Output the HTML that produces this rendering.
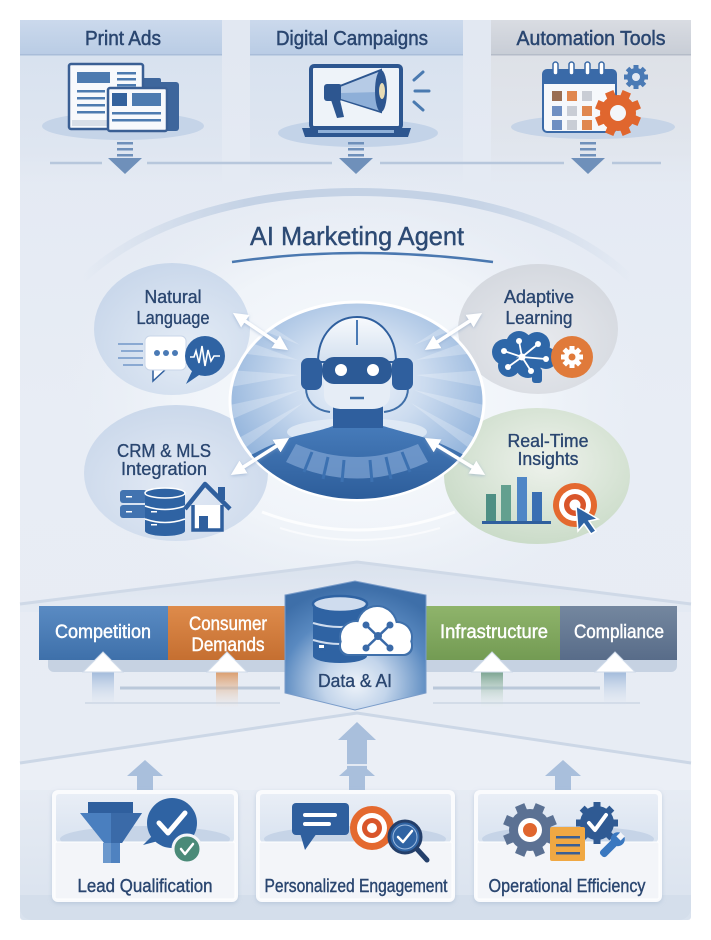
<!DOCTYPE html>
<html><head><meta charset="utf-8">
<style>
html,body{margin:0;padding:0;background:#fff;}
svg{display:block;}
text{font-family:"Liberation Sans",sans-serif;}
</style></head><body>
<svg width="711" height="940" viewBox="0 0 711 940" xmlns="http://www.w3.org/2000/svg">
<defs>
 <linearGradient id="gBg" x1="0" y1="0" x2="0" y2="1">
  <stop offset="0" stop-color="#e2e8f2"/><stop offset=".45" stop-color="#e8edf5"/><stop offset=".85" stop-color="#e7ecf4"/><stop offset="1" stop-color="#d9e2ee"/>
 </linearGradient>
 <linearGradient id="gTab" x1="0" y1="0" x2="0" y2="1"><stop offset="0" stop-color="#cbd9ec"/><stop offset="1" stop-color="#b9cce5"/></linearGradient>
 <linearGradient id="gTabG" x1="0" y1="0" x2="0" y2="1"><stop offset="0" stop-color="#d9dce2"/><stop offset="1" stop-color="#c8cdd6"/></linearGradient>
 <linearGradient id="gCol" x1="0" y1="0" x2="0" y2="1"><stop offset="0" stop-color="#d8e2ef"/><stop offset=".7" stop-color="#dfe6f1"/><stop offset="1" stop-color="#e3e9f3" stop-opacity="0"/></linearGradient>
 <linearGradient id="gColG" x1="0" y1="0" x2="0" y2="1"><stop offset="0" stop-color="#dee1e7"/><stop offset=".7" stop-color="#e1e6ee"/><stop offset="1" stop-color="#e3e9f3" stop-opacity="0"/></linearGradient>
 <linearGradient id="gArc" x1="0" y1="0" x2="1" y2="0"><stop offset="0" stop-color="#c4d2e5" stop-opacity="0"/><stop offset=".3" stop-color="#c4d2e5"/><stop offset=".7" stop-color="#c4d2e5"/><stop offset="1" stop-color="#c4d2e5" stop-opacity="0"/></linearGradient>
 <radialGradient id="gGlow"><stop offset="0" stop-color="#f8fafd"/><stop offset=".6" stop-color="#f0f4f9"/><stop offset="1" stop-color="#e8edf5" stop-opacity="0"/></radialGradient>
 <radialGradient id="gNL" cx=".6" cy=".65" r=".65"><stop offset="0" stop-color="#e4ecf6"/><stop offset="1" stop-color="#cad8eb"/></radialGradient>
 <radialGradient id="gAL" cx=".5" cy=".6" r=".65"><stop offset="0" stop-color="#e8eaee"/><stop offset="1" stop-color="#d3d7de"/></radialGradient>
 <radialGradient id="gCRM" cx=".5" cy=".6" r=".65"><stop offset="0" stop-color="#e3eaf5"/><stop offset="1" stop-color="#c9d7ea"/></radialGradient>
 <radialGradient id="gRT" cx=".55" cy=".4" r=".65"><stop offset="0" stop-color="#eef2ec"/><stop offset="1" stop-color="#c8dac6"/></radialGradient>
 <radialGradient id="gCen" cx=".5" cy=".4" r=".6"><stop offset="0" stop-color="#f0f5fb"/><stop offset=".45" stop-color="#cbdbef"/><stop offset="1" stop-color="#8aaed9"/></radialGradient>
 <linearGradient id="gBody" x1="0" y1="0" x2="0" y2="1"><stop offset="0" stop-color="#467bba"/><stop offset="1" stop-color="#2b5b98"/></linearGradient>
 <linearGradient id="gHead" x1="0" y1="0" x2="0" y2="1"><stop offset="0" stop-color="#f8fafd"/><stop offset="1" stop-color="#d3e0ef"/></linearGradient>
 <clipPath id="cCen"><ellipse cx="357" cy="401" rx="126" ry="98"/></clipPath>
 <radialGradient id="gHex" cx=".5" cy=".8" r=".75"><stop offset="0" stop-color="#eef3f9"/><stop offset=".3" stop-color="#c3d5eb"/><stop offset=".7" stop-color="#5989c0"/><stop offset="1" stop-color="#3e6fa9"/></radialGradient>
 <linearGradient id="gS1" x1="0" y1="0" x2="0" y2="1"><stop offset="0" stop-color="#5a8bc3"/><stop offset="1" stop-color="#3e70aa"/></linearGradient>
 <linearGradient id="gS2" x1="0" y1="0" x2="0" y2="1"><stop offset="0" stop-color="#de8b4b"/><stop offset="1" stop-color="#c56f31"/></linearGradient>
 <linearGradient id="gS3" x1="0" y1="0" x2="0" y2="1"><stop offset="0" stop-color="#8fb46b"/><stop offset="1" stop-color="#739b53"/></linearGradient>
 <linearGradient id="gS4" x1="0" y1="0" x2="0" y2="1"><stop offset="0" stop-color="#74879f"/><stop offset="1" stop-color="#586c89"/></linearGradient>
 <linearGradient id="gStB" x1="0" y1="0" x2="0" y2="1"><stop offset="0" stop-color="#9ab5d8"/><stop offset="1" stop-color="#dfe7f2" stop-opacity="0"/></linearGradient>
 <linearGradient id="gStO" x1="0" y1="0" x2="0" y2="1"><stop offset="0" stop-color="#d9955f"/><stop offset="1" stop-color="#efd9c7" stop-opacity="0"/></linearGradient>
 <linearGradient id="gStG" x1="0" y1="0" x2="0" y2="1"><stop offset="0" stop-color="#6f9c86"/><stop offset="1" stop-color="#d6e5da" stop-opacity="0"/></linearGradient>
 <linearGradient id="gCardTop" x1="0" y1="0" x2="0" y2="1"><stop offset="0" stop-color="#e9eef6"/><stop offset="1" stop-color="#d9e3f0"/></linearGradient>
 <linearGradient id="gRoof" x1="0" y1="0" x2="0" y2="1"><stop offset="0" stop-color="#d5deeb"/><stop offset="1" stop-color="#e4eaf3"/></linearGradient>
 <marker id="ah" viewBox="0 0 12 12" refX="9" refY="6" markerWidth="15" markerHeight="15" markerUnits="userSpaceOnUse" orient="auto-start-reverse">
  <path d="M0,0 L12,6 L0,12 Z" fill="#ffffff"/>
 </marker>
 <filter id="fSh" x="-20%" y="-20%" width="140%" height="140%"><feDropShadow dx="0" dy="1" stdDeviation="1.5" flood-color="#7f9cc4" flood-opacity=".55"/></filter>
 <filter id="fCard" x="-10%" y="-10%" width="120%" height="125%"><feDropShadow dx="0" dy="1.5" stdDeviation="2" flood-color="#9fb2cc" flood-opacity=".5"/></filter>
</defs>

<!-- panel background -->
<rect x="20" y="20" width="671" height="900" rx="3" fill="url(#gBg)"/>

<!-- top columns & tabs -->
<rect x="20" y="55" width="202" height="140" fill="url(#gCol)"/>
<rect x="250" y="55" width="213" height="140" fill="url(#gCol)"/>
<rect x="491" y="55" width="200" height="140" fill="url(#gColG)"/>
<rect x="20" y="20" width="202" height="35" fill="url(#gTab)"/>
<rect x="250" y="20" width="213" height="35" fill="url(#gTab)"/>
<rect x="491" y="20" width="200" height="35" fill="url(#gTabG)"/>
<rect x="20" y="54" width="202" height="1.5" fill="#a9bdd9"/>
<rect x="250" y="54" width="213" height="1.5" fill="#a9bdd9"/>
<rect x="491" y="54" width="200" height="1.5" fill="#b5bcc8"/>
<g fill="#2a4670" stroke="#2a4670" stroke-width="0.5" font-size="20" text-anchor="middle">
 <text x="123" y="45" textLength="76" lengthAdjust="spacingAndGlyphs">Print Ads</text>
 <text x="352" y="45" textLength="152" lengthAdjust="spacingAndGlyphs">Digital Campaigns</text>
 <text x="591" y="45" textLength="149" lengthAdjust="spacingAndGlyphs">Automation Tools</text>
</g>

<!-- Print ads icon -->
<ellipse cx="123" cy="126" rx="81" ry="14" fill="#c5d4e8"/>
<rect x="140" y="82" width="39" height="49" rx="3" fill="#3e669c"/>
<rect x="141" y="78" width="20" height="7" rx="2" fill="#3e669c"/>
<rect x="69" y="64" width="74" height="65" rx="2" fill="#f7f9fc" stroke="#3a5f94" stroke-width="2.5"/>
<rect x="72" y="120" width="36" height="6" fill="#d9dfe8"/>
<rect x="108" y="88" width="59" height="43" rx="2" fill="#f7f9fc" stroke="#3a5f94" stroke-width="2.5"/>
<g fill="#4d7bb0">
 <rect x="77" y="72" width="33" height="11"/>
 <rect x="117" y="72" width="19" height="2.5"/><rect x="117" y="78" width="19" height="2.5"/><rect x="117" y="84" width="19" height="2.5"/>
 <rect x="77" y="90" width="28" height="2.5"/><rect x="77" y="97" width="28" height="2.5"/><rect x="77" y="104" width="28" height="2.5"/><rect x="77" y="111" width="28" height="2.5"/>
 <rect x="132" y="93" width="29" height="13"/>
 <rect x="112" y="112" width="49" height="2.5"/><rect x="112" y="119" width="49" height="2.5"/>
</g>
<rect x="112" y="93" width="15" height="13" fill="#33629d"/>

<!-- Laptop icon -->
<ellipse cx="358" cy="133" rx="80" ry="14" fill="#c3d3e8"/>
<rect x="311" y="66" width="90" height="62" rx="3" fill="#eef3f9" stroke="#2d5690" stroke-width="4"/>
<path d="M302,128 H411 L408,137 H305 Z" fill="#2d5690"/>
<rect x="318" y="130" width="76" height="3" fill="#8fb0d8"/>
<rect x="324" y="84" width="18" height="17" rx="3" fill="#2d5690"/>
<path d="M340,86 L381,70 L381,112 L340,99 Z" fill="#b6cbe6" stroke="#2d5690" stroke-width="2"/>
<path d="M341,93 L380,92 L380,111 L341,99 Z" fill="#8eafd8"/>
<ellipse cx="381" cy="91" rx="6" ry="21" fill="#2d5690"/>
<ellipse cx="382" cy="91" rx="3" ry="8" fill="#e8dcb5"/>
<path d="M331,100 L337,118 L344,117 L340,100 Z" fill="#2d5690"/>
<g stroke="#4a7ab0" stroke-width="3" stroke-linecap="round">
 <line x1="414" y1="80" x2="423" y2="72"/><line x1="415" y1="91" x2="429" y2="91"/><line x1="414" y1="102" x2="423" y2="110"/>
</g>

<!-- Calendar icon -->
<ellipse cx="593" cy="127" rx="82" ry="12" fill="#c6d4e7"/>
<rect x="543" y="70" width="73" height="62" rx="4" fill="#f6f8fb" stroke="#3a6aa8" stroke-width="2"/>
<path d="M543,74 a4,4 0 0 1 4,-4 h65 a4,4 0 0 1 4,4 v10 h-73 z" fill="#3a6aa8"/>
<g fill="#fff" stroke="#3a6aa8" stroke-width="1.5">
 <rect x="553" y="62" width="5" height="13" rx="2.5"/><rect x="569" y="62" width="5" height="13" rx="2.5"/><rect x="585" y="62" width="5" height="13" rx="2.5"/><rect x="599" y="62" width="5" height="13" rx="2.5"/>
</g>
<rect x="552" y="91" width="10" height="10" fill="#9a6e52"/><rect x="567" y="91" width="10" height="10" fill="#e0874f"/><rect x="582" y="91" width="10" height="10" fill="#c9cdd5"/>
<rect x="552" y="106" width="10" height="10" fill="#6f8fc2"/><rect x="567" y="106" width="10" height="10" fill="#c9cdd5"/><rect x="582" y="106" width="10" height="10" fill="#e0874f"/>
<rect x="552" y="120" width="10" height="10" fill="#6f8fc2"/><rect x="567" y="120" width="10" height="10" fill="#c9cdd5"/><rect x="582" y="120" width="10" height="10" fill="#e0874f"/>
<g transform="translate(636,77)" fill="#4a7ab5"><circle r="9"/><rect x="-2.5" y="-12" width="5" height="24"/><rect x="-2.5" y="-12" width="5" height="24" transform="rotate(45)"/><rect x="-2.5" y="-12" width="5" height="24" transform="rotate(90)"/><rect x="-2.5" y="-12" width="5" height="24" transform="rotate(135)"/></g>
<circle cx="636" cy="77" r="4" fill="#e3e9f3"/>
<g transform="translate(618,113) rotate(22.5)" fill="#e0662e"><circle r="18"/><rect x="-4.5" y="-23" width="9" height="46"/><rect x="-4.5" y="-23" width="9" height="46" transform="rotate(45)"/><rect x="-4.5" y="-23" width="9" height="46" transform="rotate(90)"/><rect x="-4.5" y="-23" width="9" height="46" transform="rotate(135)"/></g>
<circle cx="618" cy="113" r="8" fill="#f3f6fa"/>

<!-- down arrows & line -->
<g stroke="#b7c7dc" stroke-width="2.5">
 <line x1="50" y1="163" x2="102" y2="163"/><line x1="147" y1="163" x2="332" y2="163"/><line x1="380" y1="163" x2="564" y2="163"/><line x1="612" y1="163" x2="661" y2="163"/>
</g>
<g fill="#6f90ba">
 <rect x="117" y="142" width="16" height="2.5"/><rect x="117" y="148" width="16" height="2.5"/><rect x="117" y="154" width="16" height="2.5"/><polygon points="108,158 142,158 125,174"/>
 <rect x="348" y="142" width="16" height="2.5"/><rect x="348" y="148" width="16" height="2.5"/><rect x="348" y="154" width="16" height="2.5"/><polygon points="339,158 373,158 356,174"/>
 <rect x="580" y="142" width="16" height="2.5"/><rect x="580" y="148" width="16" height="2.5"/><rect x="580" y="154" width="16" height="2.5"/><polygon points="571,158 605,158 588,174"/>
</g>

<!-- agent area glow and arc -->
<ellipse cx="357" cy="400" rx="300" ry="230" fill="url(#gGlow)"/>
<path d="M82,280 C150,215 260,192 357,192 C455,192 565,215 632,280" fill="none" stroke="url(#gArc)" stroke-width="8"/>
<text x="357" y="245" font-size="26" fill="#2c4a74" stroke="#2c4a74" stroke-width="0.4" text-anchor="middle" textLength="214" lengthAdjust="spacingAndGlyphs">AI Marketing Agent</text>
<path d="M232,262 Q357,244 493,262" fill="none" stroke="#4a78b0" stroke-width="2.5"/>

<!-- Natural Language -->
<ellipse cx="172" cy="329" rx="78" ry="66" fill="url(#gNL)"/>
<g fill="#2a4670" stroke="#2a4670" stroke-width="0.35" font-size="18" text-anchor="middle">
 <text x="173" y="303" textLength="57" lengthAdjust="spacingAndGlyphs">Natural</text>
 <text x="173" y="324" textLength="73" lengthAdjust="spacingAndGlyphs">Language</text>
</g>
<g fill="#8aa9d2"><rect x="118" y="343" width="25" height="2"/><rect x="121" y="350" width="22" height="2"/><rect x="118" y="357" width="25" height="2"/><rect x="123" y="364" width="20" height="2"/></g>
<path d="M153,368 L153,381 L166,369 Z" fill="#fff" stroke="#2f5f9e" stroke-width="1.5"/>
<rect x="145" y="336" width="41" height="34" rx="5" fill="#fff" stroke="#c9d6e8" stroke-width="1"/>
<circle cx="157" cy="353" r="3" fill="#4a7ab5"/><circle cx="166" cy="353" r="3" fill="#4a7ab5"/><circle cx="175" cy="353" r="3" fill="#4a7ab5"/>
<path d="M193,369 L186,384 L202,373 Z" fill="#2f63a3"/>
<circle cx="205" cy="356" r="20" fill="#2f63a3"/>
<polyline points="190,357 194,357 196,351 199,363 202,346 205,366 208,350 211,361 214,356 220,356" fill="none" stroke="#fff" stroke-width="1.6"/>

<!-- Adaptive Learning -->
<ellipse cx="538" cy="329" rx="80" ry="65" fill="url(#gAL)"/>
<g fill="#2a4670" stroke="#2a4670" stroke-width="0.35" font-size="18" text-anchor="middle">
 <text x="539" y="303" textLength="70" lengthAdjust="spacingAndGlyphs">Adaptive</text>
 <text x="539" y="324" textLength="67" lengthAdjust="spacingAndGlyphs">Learning</text>
</g>
<g fill="#2e67a8">
 <circle cx="505" cy="352" r="13"/><circle cx="519" cy="344" r="13"/><circle cx="537" cy="345" r="13"/><circle cx="546" cy="358" r="11"/><circle cx="509" cy="366" r="11"/><circle cx="528" cy="365" r="13"/><rect x="532" y="368" width="10" height="15" rx="3"/>
</g>
<g stroke="#fff" stroke-width="1.8"><line x1="522" y1="357" x2="504" y2="351"/><line x1="522" y1="357" x2="519" y2="341"/><line x1="522" y1="357" x2="538" y2="344"/><line x1="522" y1="357" x2="546" y2="359"/><line x1="522" y1="357" x2="531" y2="371"/><line x1="522" y1="357" x2="508" y2="367"/></g>
<g fill="#fff"><circle cx="522" cy="357" r="3.5"/><circle cx="504" cy="351" r="3"/><circle cx="519" cy="341" r="3"/><circle cx="538" cy="344" r="3"/><circle cx="546" cy="359" r="3"/><circle cx="531" cy="371" r="3"/><circle cx="508" cy="367" r="3"/></g>
<circle cx="572" cy="357" r="21" fill="#e07a3a"/>
<g transform="translate(572,357)" fill="#fff"><circle r="8"/><rect x="-2.5" y="-11" width="5" height="22"/><rect x="-2.5" y="-11" width="5" height="22" transform="rotate(45)"/><rect x="-2.5" y="-11" width="5" height="22" transform="rotate(90)"/><rect x="-2.5" y="-11" width="5" height="22" transform="rotate(135)"/></g>
<circle cx="572" cy="357" r="3.5" fill="#e07a3a"/>

<!-- CRM & MLS -->
<ellipse cx="176" cy="473" rx="92" ry="68" fill="url(#gCRM)"/>
<g fill="#2a4670" stroke="#2a4670" stroke-width="0.35" font-size="18.5" text-anchor="middle">
 <text x="164" y="457" textLength="94" lengthAdjust="spacingAndGlyphs">CRM &amp; MLS</text>
 <text x="164" y="475" textLength="86" lengthAdjust="spacingAndGlyphs">Integration</text>
</g>
<rect x="120" y="490" width="27" height="13" rx="3" fill="#4273b0"/><rect x="120" y="505" width="27" height="13" rx="3" fill="#4273b0"/>
<rect x="126" y="496" width="6" height="1.5" fill="#fff"/><rect x="126" y="511" width="6" height="1.5" fill="#fff"/>
<rect x="145" y="493" width="40" height="38" fill="#2f63a3"/>
<ellipse cx="165" cy="531" rx="20" ry="5" fill="#2f63a3"/>
<ellipse cx="165" cy="493" rx="20" ry="5" fill="#2f63a3" stroke="#fff" stroke-width="1.5"/>
<path d="M145,506 Q165,513 185,506 M145,519 Q165,526 185,519" fill="none" stroke="#fff" stroke-width="1.5"/>
<rect x="151" y="511" width="6" height="1.5" fill="#fff"/><rect x="151" y="524" width="6" height="1.5" fill="#fff"/>
<rect x="218" y="487" width="7" height="13" fill="#2f5f9e"/>
<path d="M185,509 L205,484 L230,509" fill="none" stroke="#2f5f9e" stroke-width="4.5" stroke-linejoin="round"/>
<path d="M193,505 V530 H222 V505" fill="#fff" stroke="#2f5f9e" stroke-width="3.5"/>
<rect x="199" y="516" width="9" height="14" fill="#2f5f9e"/>

<!-- Real-Time Insights -->
<ellipse cx="537" cy="476" rx="93" ry="68" fill="url(#gRT)"/>
<g fill="#2a4670" stroke="#2a4670" stroke-width="0.35" font-size="18" text-anchor="middle">
 <text x="548" y="447" textLength="81" lengthAdjust="spacingAndGlyphs">Real-Time</text>
 <text x="548" y="465" textLength="61" lengthAdjust="spacingAndGlyphs">Insights</text>
</g>
<rect x="486" y="494" width="10" height="27" fill="#4e8f84"/>
<rect x="501" y="485" width="10" height="36" fill="#63a08f"/>
<rect x="517" y="477" width="10" height="44" fill="#4f86c6"/>
<rect x="532" y="492" width="10" height="29" fill="#3a6fb3"/>
<rect x="482" y="521" width="69" height="3" fill="#2f5f9e"/>
<circle cx="575" cy="505" r="22" fill="#e4692f"/><circle cx="575" cy="505" r="16" fill="#fff"/><circle cx="575" cy="505" r="11" fill="#d9552a"/><circle cx="575" cy="505" r="5.5" fill="#fff"/>
<polygon points="576,506 578,531 584,524 591,534 596,531 589,521 598,519" fill="#2f63a3" stroke="#fff" stroke-width="1.5"/>

<!-- Central circle -->
<ellipse cx="357" cy="401" rx="127" ry="99" fill="url(#gCen)" stroke="#ffffff" stroke-width="3"/>
<g clip-path="url(#cCen)">
 <g fill="#ffffff" opacity=".25">
  <polygon points="300,345 230,300 230,318"/>
  <polygon points="298,360 230,335 230,352"/>
  <polygon points="298,375 230,370 230,387"/>
  <polygon points="300,390 230,405 230,420"/>
  <polygon points="303,403 235,440 240,452"/>
  <polygon points="414,345 484,300 484,318"/>
  <polygon points="416,360 484,335 484,352"/>
  <polygon points="416,375 484,370 484,387"/>
  <polygon points="414,390 484,405 484,420"/>
  <polygon points="411,403 479,440 474,452"/>
 </g>
 <ellipse cx="357" cy="432" rx="70" ry="14" fill="#e4ecf6" opacity=".8"/>
 <path d="M225,505 L225,470 C250,455 275,441 300,435 C318,431 328,428 333,426 L383,426 C390,428 400,431 415,435 C440,441 465,455 490,470 L490,505 Z" fill="url(#gBody)"/>
 <path d="M296,444 Q357,470 418,444 L428,462 Q357,495 286,462 Z" fill="#7ca2d2" opacity=".75"/>
 <g stroke="#3c71b1" stroke-width="3">
  <line x1="312" y1="452" x2="304" y2="472"/><line x1="328" y1="457" x2="323" y2="479"/><line x1="344" y1="460" x2="342" y2="482"/><line x1="370" y1="460" x2="372" y2="482"/><line x1="386" y1="457" x2="391" y2="479"/><line x1="402" y1="452" x2="410" y2="472"/>
 </g>
</g>
<!-- robot head -->
<rect x="333" y="404" width="50" height="24" fill="#2f5f9e"/>
<path d="M306,388 C306,400 314,410 330,412" fill="none" stroke="#3f6fa8" stroke-width="2"/>
<path d="M408,388 C408,400 400,410 384,412" fill="none" stroke="#3f6fa8" stroke-width="2"/>
<path d="M318,362 C318,334 336,317 357,317 C378,317 396,334 396,362 Z" fill="url(#gHead)" stroke="#2f5f9e" stroke-width="2"/>
<line x1="357" y1="320" x2="357" y2="345" stroke="#4a7ab5" stroke-width="2"/>
<path d="M324,380 H390 V395 C390,404 382,409 372,409 H342 C332,409 324,404 324,395 Z" fill="#e6edf6"/>
<rect x="322" y="357" width="70" height="27" rx="12" fill="#2c5a96"/>
<circle cx="341" cy="370" r="6" fill="#fff"/><circle cx="373" cy="370" r="6" fill="#fff"/>
<line x1="350" y1="398" x2="364" y2="398" stroke="#3f6fa8" stroke-width="2.5"/>
<rect x="301" y="358" width="21" height="32" rx="7" fill="#2f5f9e"/>
<rect x="392" y="358" width="21" height="32" rx="7" fill="#2f5f9e"/>
<!-- under arcs -->
<path d="M262,512 Q357,548 455,512" fill="none" stroke="#ffffff" stroke-width="3" opacity=".8"/>
<path d="M280,528 Q357,552 440,528" fill="none" stroke="#ffffff" stroke-width="2" opacity=".6"/>

<!-- double arrows -->
<g filter="url(#fSh)" stroke="#fff" stroke-width="3.5" marker-start="url(#ah)" marker-end="url(#ah)">
 <line x1="236" y1="315" x2="285" y2="348"/>
 <line x1="479" y1="315" x2="428" y2="348"/>
 <line x1="234" y1="473" x2="286" y2="440"/>
 <line x1="428" y1="440" x2="482" y2="473"/>
</g>

<!-- band roof -->
<polygon points="20,604 357,562 691,604 691,612 20,612" fill="url(#gRoof)" opacity=".8"/>
<path d="M20,604 L357,562 L691,604" fill="none" stroke="#cfd9e7" stroke-width="3"/>
<rect x="48" y="652" width="629" height="20" rx="6" fill="#c6d2e2"/>
<rect x="39" y="606" width="129" height="54" fill="url(#gS1)"/>
<rect x="168" y="606" width="118" height="54" fill="url(#gS2)"/>
<rect x="426" y="606" width="134" height="54" fill="url(#gS3)"/>
<rect x="560" y="606" width="117" height="54" fill="url(#gS4)"/>
<g fill="#ffffff" stroke="#ffffff" stroke-width="0.45" font-size="19" text-anchor="middle">
 <text x="103" y="638" textLength="96" lengthAdjust="spacingAndGlyphs">Competition</text>
 <text x="228" y="630" textLength="78" lengthAdjust="spacingAndGlyphs">Consumer</text>
 <text x="228" y="651" textLength="73" lengthAdjust="spacingAndGlyphs">Demands</text>
 <text x="494" y="638" textLength="108" lengthAdjust="spacingAndGlyphs">Infrastructure</text>
 <text x="619" y="638" textLength="90" lengthAdjust="spacingAndGlyphs">Compliance</text>
</g>
<!-- horizontal lines -->
<g stroke="#bac8da" stroke-width="3"><line x1="120" y1="688" x2="280" y2="688"/><line x1="433" y1="688" x2="600" y2="688"/></g>
<g stroke="#d3dce8" stroke-width="2"><line x1="85" y1="703" x2="280" y2="703"/><line x1="433" y1="703" x2="640" y2="703"/></g>
<!-- up arrows under bar -->
<rect x="92" y="670" width="22" height="38" fill="url(#gStB)"/>
<rect x="216" y="670" width="22" height="38" fill="url(#gStO)"/>
<rect x="481" y="670" width="22" height="38" fill="url(#gStG)"/>
<rect x="604" y="670" width="22" height="38" fill="url(#gStB)"/>
<g fill="#ffffff" stroke="#d0dbea" stroke-width="1">
 <polygon points="103,652 83,672 123,672"/>
 <polygon points="227,652 207,672 247,672"/>
 <polygon points="492,652 472,672 512,672"/>
 <polygon points="615,652 595,672 635,672"/>
</g>

<!-- hexagon Data & AI -->
<polygon points="285,595 355,581 426,595 426,693 355,710 285,693" fill="url(#gHex)" stroke="#7b9dca" stroke-width="1"/>
<rect x="313" y="604" width="54" height="52" fill="#2f63a3"/>
<ellipse cx="340" cy="656" rx="27" ry="7" fill="#2f63a3"/>
<ellipse cx="340" cy="604" rx="27" ry="8" fill="#cfdcee" stroke="#2f63a3" stroke-width="2.5"/>
<path d="M313,623 Q340,631 367,623 M313,640 Q340,648 367,640" fill="none" stroke="#cfdcee" stroke-width="2"/>
<rect x="319" y="645" width="5" height="3" fill="#fff"/>
<g fill="#3f70ab">
 <circle cx="356" cy="637" r="17"/><circle cx="377" cy="626" r="21"/><circle cx="397" cy="637" r="16"/><rect x="339" y="636" width="74" height="20" rx="9"/>
</g>
<g fill="#ffffff">
 <circle cx="356" cy="637" r="15"/><circle cx="377" cy="626" r="19"/><circle cx="397" cy="637" r="14"/><rect x="341" y="637" width="70" height="17" rx="8"/>
</g>
<g stroke="#3a6aa8" stroke-width="2.5"><line x1="366" y1="625" x2="390" y2="648"/><line x1="390" y1="625" x2="366" y2="648"/></g>
<g fill="#3a6aa8"><circle cx="378" cy="636" r="4"/><circle cx="366" cy="625" r="3.5"/><circle cx="390" cy="625" r="3.5"/><circle cx="366" cy="648" r="3.5"/><circle cx="390" cy="648" r="3.5"/></g>
<text x="355" y="687" font-size="18" fill="#2a4670" stroke="#2a4670" stroke-width="0.35" text-anchor="middle" textLength="74" lengthAdjust="spacingAndGlyphs">Data &amp; AI</text>

<!-- lower roof -->
<polygon points="20,763 357,713 691,763 691,790 20,790" fill="#eef2f8" opacity=".55"/>
<path d="M20,763 L357,713 L691,763" fill="none" stroke="#ccd7e6" stroke-width="3"/>
<g fill="#a9bfdc">
 <polygon points="357,722 338,740 376,740"/><rect x="347" y="740" width="20" height="30"/>
 <polygon points="145,760 127,776 163,776"/><rect x="137" y="776" width="16" height="14"/>
 <polygon points="357,760 339,776 375,776"/><rect x="349" y="776" width="16" height="14"/>
 <polygon points="563,760 545,776 581,776"/><rect x="555" y="776" width="16" height="14"/>
</g>
<rect x="347" y="764" width="20" height="2" fill="#e3e9f3"/>

<!-- bottom strip -->
<path d="M20,895 H691 V908 a12,12 0 0 1 -12,12 H32 a12,12 0 0 1 -12,-12 Z" fill="#d4deeb"/>

<!-- Cards -->
<g filter="url(#fCard)">
 <rect x="52" y="790" width="186" height="112" rx="6" fill="#fafbfd"/>
 <rect x="256" y="790" width="199" height="112" rx="6" fill="#fafbfd"/>
 <rect x="474" y="790" width="188" height="112" rx="6" fill="#fafbfd"/>
</g>
<rect x="56" y="794" width="178" height="48" rx="3" fill="url(#gCardTop)"/>
<rect x="260" y="794" width="191" height="48" rx="3" fill="url(#gCardTop)"/>
<rect x="478" y="794" width="180" height="48" rx="3" fill="url(#gCardTop)"/>
<ellipse cx="145" cy="839" rx="85" ry="13" fill="#c6d4e7"/>
<ellipse cx="355" cy="839" rx="91" ry="13" fill="#c6d4e7"/>
<ellipse cx="568" cy="839" rx="86" ry="13" fill="#c6d4e7"/>
<rect x="55" y="842" width="180" height="57" rx="2" fill="#f3f5f9" stroke="#ffffff" stroke-width="1"/>
<rect x="259" y="842" width="193" height="57" rx="2" fill="#f3f5f9" stroke="#ffffff" stroke-width="1"/>
<rect x="477" y="842" width="182" height="57" rx="2" fill="#f3f5f9" stroke="#ffffff" stroke-width="1"/>

<!-- Lead Qualification icons -->
<rect x="88" y="802" width="45" height="11" fill="#2f5f9e"/>
<path d="M80,813 H142 L122,843 H104 Z" fill="#4a7fbf"/>
<path d="M111,813 H142 L122,843 H111 Z" fill="#3a6aa8"/>
<rect x="103" y="843" width="17" height="20" fill="#6b98cd"/>
<rect x="111" y="843" width="9" height="20" fill="#4f82c0"/>
<path d="M155,833 L143,845 L162,840 Z" fill="#2f63a3"/>
<circle cx="172" cy="823" r="25" fill="#2f63a3"/>
<path d="M159,823 L168,833 L185,813" fill="none" stroke="#fff" stroke-width="5" stroke-linecap="round" stroke-linejoin="round"/>
<circle cx="187" cy="849" r="14" fill="#4a8a78" stroke="#f3f5f9" stroke-width="3"/>
<path d="M181,849 L185,854 L193,844" fill="none" stroke="#fff" stroke-width="2.5" stroke-linecap="round" stroke-linejoin="round"/>

<!-- Personalized icons -->
<rect x="292" y="803" width="57" height="32" rx="4" fill="#2f5f9e"/>
<polygon points="300,833 305,850 317,833" fill="#2f5f9e"/>
<rect x="303" y="813" width="34" height="4" rx="2" fill="#fff"/>
<rect x="303" y="822" width="28" height="4" rx="2" fill="#fff"/>
<circle cx="372" cy="828" r="22" fill="#e4692f"/><circle cx="372" cy="828" r="15" fill="#fff"/><circle cx="372" cy="828" r="10" fill="#d9552a"/><circle cx="372" cy="828" r="5" fill="#fff"/>
<line x1="416" y1="848" x2="427" y2="860" stroke="#243f6a" stroke-width="5" stroke-linecap="round"/>
<circle cx="405" cy="837" r="16" fill="#2f63a3" stroke="#243f6a" stroke-width="3"/>
<circle cx="405" cy="837" r="12" fill="none" stroke="#9dbbe0" stroke-width="1"/>
<path d="M398,837 L403,842 L412,831" fill="none" stroke="#fff" stroke-width="2.5" stroke-linecap="round" stroke-linejoin="round"/>

<!-- Operational icons -->
<g transform="translate(530,830) rotate(22.5)" fill="#5b7193"><circle r="21"/><rect x="-5" y="-27" width="10" height="54"/><rect x="-5" y="-27" width="10" height="54" transform="rotate(45)"/><rect x="-5" y="-27" width="10" height="54" transform="rotate(90)"/><rect x="-5" y="-27" width="10" height="54" transform="rotate(135)"/></g>
<circle cx="530" cy="830" r="12" fill="#fff"/><circle cx="530" cy="830" r="7" fill="#e0662e"/>
<g transform="translate(597,823)" fill="#2f5a93"><circle r="17"/><rect x="-3.5" y="-21" width="7" height="42"/><rect x="-3.5" y="-21" width="7" height="42" transform="rotate(45)"/><rect x="-3.5" y="-21" width="7" height="42" transform="rotate(90)"/><rect x="-3.5" y="-21" width="7" height="42" transform="rotate(135)"/></g>
<path d="M589,823 L595,830 L606,815" fill="none" stroke="#fff" stroke-width="4" stroke-linecap="round" stroke-linejoin="round"/>
<g transform="rotate(-45 610 847)"><rect x="598" y="843" width="22" height="8" rx="3" fill="#3a78c0"/><circle cx="621" cy="847" r="7" fill="#3a78c0"/><rect x="622" y="844" width="6" height="6" fill="#f3f5f9"/></g>
<rect x="550" y="827" width="35" height="34" rx="2" fill="#f0a843"/>
<g fill="#3a5f94"><rect x="556" y="836" width="24" height="2.5"/><rect x="556" y="844" width="24" height="2.5"/><rect x="556" y="852" width="24" height="2.5"/></g>

<g fill="#2a4670" stroke="#2a4670" stroke-width="0.4" font-size="18" text-anchor="middle">
 <text x="145" y="892" textLength="135" lengthAdjust="spacingAndGlyphs">Lead Qualification</text>
 <text x="356" y="892" textLength="183" lengthAdjust="spacingAndGlyphs">Personalized Engagement</text>
 <text x="567" y="892" textLength="157" lengthAdjust="spacingAndGlyphs">Operational Efficiency</text>
</g>
</svg>
</body></html>
